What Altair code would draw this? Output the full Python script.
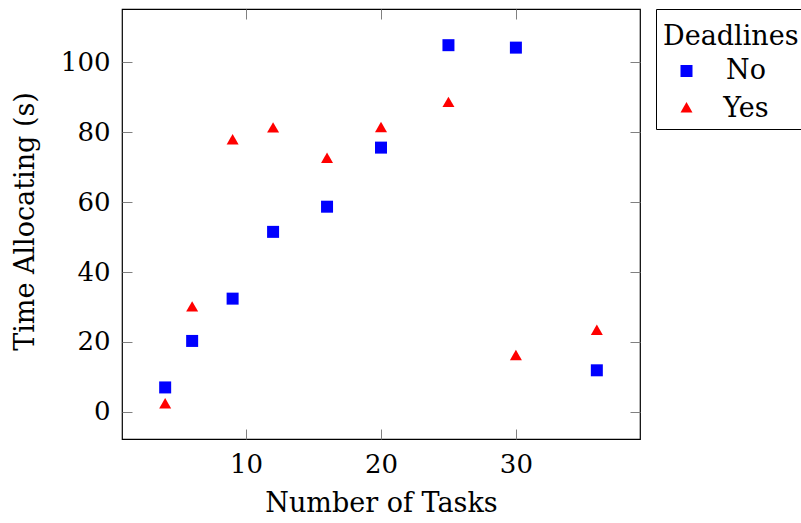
import altair as alt
import pandas as pd

# Number of tasks in each run
tasks = [4, 6, 9, 12, 16, 20, 25, 30, 36]
# Time spent allocating (s), without and with deadlines
time_no_deadline = [7.0, 20.3, 32.4, 51.5, 58.7, 75.6, 104.9, 104.2, 11.9]
time_with_deadline = [2.0, 29.7, 77.5, 80.9, 72.2, 81.0, 88.2, 15.8, 23.0]

series_names = ["No", "Yes"]
series_colors = ["#0000ff", "#ff0000"]
x_ticks = [10, 20, 30]
y_ticks = [0, 20, 40, 60, 80, 100]

df = pd.concat([
    pd.DataFrame({"tasks": tasks, "time": time_no_deadline, "deadlines": "No"}),
    pd.DataFrame({"tasks": tasks, "time": time_with_deadline, "deadlines": "Yes"}),
])

FONT = "DejaVu Serif"
TICK_GRAY = "#808080"

# equilateral triangle centred on its centroid
triangle = "M0,-1.155L1,0.577L-1,0.577Z"

x_scale = alt.Scale(domain=[0.8, 39.2], nice=False, zero=False)
y_scale = alt.Scale(domain=[-7.75, 115.25], nice=False, zero=False)

legend = alt.Legend(
    title="Deadlines",
    orient="none", legendX=534, legendY=0,
    strokeColor="black", padding=7,
    titleFont=FONT, titleFontSize=27, titleFontWeight="normal",
    titleColor="black", titleBaseline="line-top", titleLineHeight=42, titlePadding=14.5,
    labelFont=FONT, labelFontSize=27, labelColor="black",
    labelAlign="center", labelOffset=46,
    symbolSize=144, symbolStrokeWidth=0, symbolOffset=10, rowPadding=10,
)

points = alt.Chart(df).mark_point(filled=True, size=144, opacity=1).encode(
    x=alt.X("tasks:Q", scale=x_scale, axis=alt.Axis(
        orient="bottom", values=x_ticks, offset=-10, domain=False, grid=False,
        tickSize=10, tickColor=TICK_GRAY, tickWidth=1,
        labelFont=FONT, labelFontSize=26, labelColor="black", labelPadding=12.5,
        title="Number of Tasks", titleFont=FONT, titleFontSize=27,
        titleFontWeight="normal", titleColor="black",
        titleBaseline="alphabetic", titleX=259, titleY=82.7)),
    y=alt.Y("time:Q", scale=y_scale, axis=alt.Axis(
        orient="left", values=y_ticks, offset=-10, domain=False, grid=False,
        tickSize=10, tickColor=TICK_GRAY, tickWidth=1,
        labelFont=FONT, labelFontSize=26, labelColor="black", labelPadding=12,
        title="Time Allocating (s)", titleFont=FONT, titleFontSize=27,
        titleFontWeight="normal", titleColor="black", titleAngle=270,
        titleBaseline="alphabetic", titleAlign="center", titleX=-99, titleY=212)),
    color=alt.Color("deadlines:N", scale=alt.Scale(domain=series_names, range=series_colors), legend=legend),
    shape=alt.Shape("deadlines:N", scale=alt.Scale(domain=series_names, range=["square", triangle]), legend=legend),
)

# mirrored tick marks on the top and right edges of the frame
mirror = alt.Chart(df).mark_point(opacity=0).encode(
    x=alt.X("tasks:Q", scale=x_scale, axis=alt.Axis(
        orient="top", values=x_ticks, offset=-10, domain=False, grid=False,
        labels=False, tickSize=10, tickColor=TICK_GRAY, tickWidth=1, title="")),
    y=alt.Y("time:Q", scale=y_scale, axis=alt.Axis(
        orient="right", values=y_ticks, offset=-10, domain=False, grid=False,
        labels=False, tickSize=10, tickColor=TICK_GRAY, tickWidth=1, title="")),
)

chart = alt.layer(points, mirror).resolve_axis(
    x="independent", y="independent"
).properties(
    width=518, height=430,
    padding={"left": 122, "top": 9, "right": 161, "bottom": 84},
    autosize=alt.AutoSizeParams(type="none"),
).configure_view(stroke="black", strokeWidth=1.2)

chart.save("out.html", embed_options={"renderer": "svg", "actions": False})
